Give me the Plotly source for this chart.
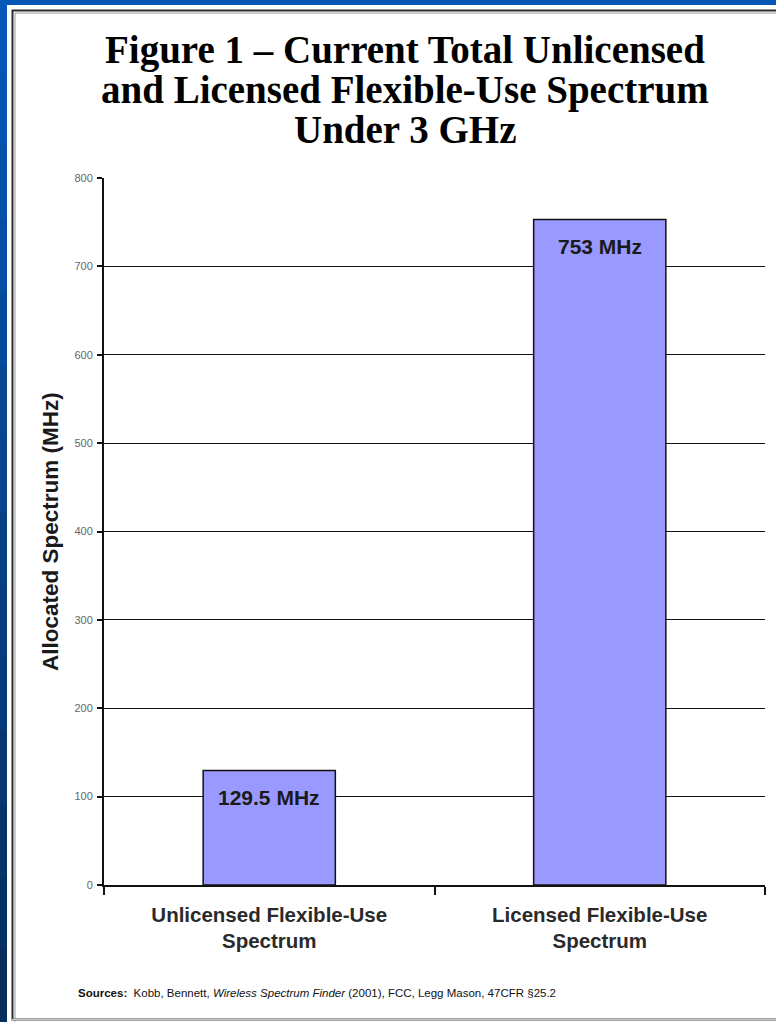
import plotly.graph_objects as go

# Chart data
categories = ["Unlicensed Flexible-Use Spectrum", "Licensed Flexible-Use Spectrum"]
tick_labels = ["Unlicensed Flexible-Use<br>Spectrum", "Licensed Flexible-Use<br>Spectrum"]
spectrum_mhz = [129.5, 753]
y_ticks = [0, 100, 200, 300, 400, 500, 600, 700, 800]

title_lines = [
    "Figure 1 \u2013 Current Total Unlicensed",
    "and Licensed Flexible-Use Spectrum",
    "Under 3 GHz",
]
source_note = ("<b>Sources:</b>  Kobb, Bennett, <i>Wireless Spectrum Finder</i> "
               "(2001), FCC, Legg Mason, 47CFR \u00a725.2")

W, H = 776, 1022


def px(x):
    return x / W


def py(y):
    return 1 - y / H


SANS = "Liberation Sans, Arial, sans-serif"
SERIF = "Liberation Serif, Times New Roman, serif"

fig = go.Figure(
    go.Bar(
        x=categories,
        y=spectrum_mhz,
        marker=dict(color="#9999FF", line=dict(color="#111111", width=1.5)),
        hoverinfo="skip",
    )
)

shapes = []
# slide background: blue strip with a vertical gradient on the left edge
n_steps = 14
for i in range(n_steps):
    t = i / (n_steps - 1)
    g = int(88 + (46 - 88) * t)
    b = int(184 + (92 - 184) * t)
    y0 = i * H / n_steps
    y1 = (i + 1) * H / n_steps
    shapes.append(dict(type="rect", xref="paper", yref="paper",
                       x0=0, x1=px(7.5), y0=py(y1), y1=py(y0),
                       fillcolor=f"rgb(6,{g},{b})", line=dict(width=0),
                       layer="below"))
# white page
shapes.append(dict(type="rect", xref="paper", yref="paper",
                   x0=px(7), x1=1.0, y0=0, y1=py(5),
                   fillcolor="white", line=dict(width=0), layer="below"))
# page frame (double rule)
shapes.append(dict(type="rect", xref="paper", yref="paper",
                   x0=px(12.5), x1=px(790), y0=py(1019.5), y1=py(10.5),
                   fillcolor="rgba(0,0,0,0)", line=dict(color="#2a2a2a", width=2),
                   layer="below"))
shapes.append(dict(type="rect", xref="paper", yref="paper",
                   x0=px(15), x1=px(790), y0=py(1030), y1=py(13),
                   fillcolor="rgba(0,0,0,0)", line=dict(color="#9a9a9a", width=1),
                   layer="below"))
shapes.append(dict(type="line", xref="paper", yref="paper",
                   x0=px(12), x1=1.0, y0=py(1019.5), y1=py(1019.5),
                   line=dict(color="#c8c8c8", width=1.5), layer="below"))

annotations = []
# title, one annotation per line
for line, yc in zip(title_lines, [50, 90, 130]):
    annotations.append(dict(text=f"<b>{line}</b>", xref="paper", yref="paper",
                            x=px(405), y=py(yc), xanchor="center", yanchor="middle",
                            showarrow=False,
                            font=dict(family=SERIF, size=39, color="#000000")))
# value labels at the top of each bar
for cat, v in zip(categories, spectrum_mhz):
    annotations.append(dict(text=f"<b>{v:g} MHz</b>", x=cat, y=v,
                            xref="x", yref="y", xanchor="center", yanchor="top",
                            yshift=-13, showarrow=False,
                            font=dict(family=SANS, size=21, color="#1a1a1a")))
# y axis title
annotations.append(dict(text="<b>Allocated Spectrum (MHz)</b>", xref="paper", yref="paper",
                        x=px(50), y=py(532), xanchor="center", yanchor="middle",
                        textangle=-90, showarrow=False,
                        font=dict(family=SANS, size=22.5, color="#1a1a1a")))
# source note
annotations.append(dict(text=source_note, xref="paper", yref="paper",
                        x=px(76), y=py(993), xanchor="left", yanchor="middle",
                        showarrow=False,
                        font=dict(family=SANS, size=11.5, color="#111111")))

fig.update_layout(
    template="none",
    width=W,
    height=H,
    autosize=False,
    margin=dict(l=0, r=0, t=0, b=0, pad=0),
    paper_bgcolor="#0657b5",
    plot_bgcolor="white",
    showlegend=False,
    bargap=0.6,
    shapes=shapes,
    annotations=annotations,
    xaxis=dict(
        domain=[px(104), px(765)],
        automargin=False,
        tickmode="array",
        tickvals=categories,
        ticktext=[f"<b>{t}</b>".replace("<br>", "</b><br><b>") for t in tick_labels],
        tickson="boundaries",
        ticks="outside",
        ticklen=8,
        tickwidth=1.5,
        tickcolor="#111111",
        showline=True,
        linecolor="#111111",
        linewidth=2,
        showgrid=False,
        zeroline=False,
        tickfont=dict(family=SANS, size=20.5, color="#2a2a2a"),
        ticklabelstandoff=10,
        fixedrange=True,
    ),
    yaxis=dict(
        domain=[py(885), py(178)],
        automargin=False,
        range=[0, 800],
        tickmode="array",
        tickvals=y_ticks,
        ticks="outside",
        ticklen=5,
        tickwidth=1.5,
        tickcolor="#111111",
        showline=True,
        linecolor="#111111",
        linewidth=2,
        showgrid=True,
        gridcolor="#111111",
        gridwidth=1,
        zeroline=False,
        tickfont=dict(family=SANS, size=11, color="#666666"),
        ticklabelstandoff=2,
        fixedrange=True,
    ),
)

fig.write_html("out.html", config={"displayModeBar": False})
